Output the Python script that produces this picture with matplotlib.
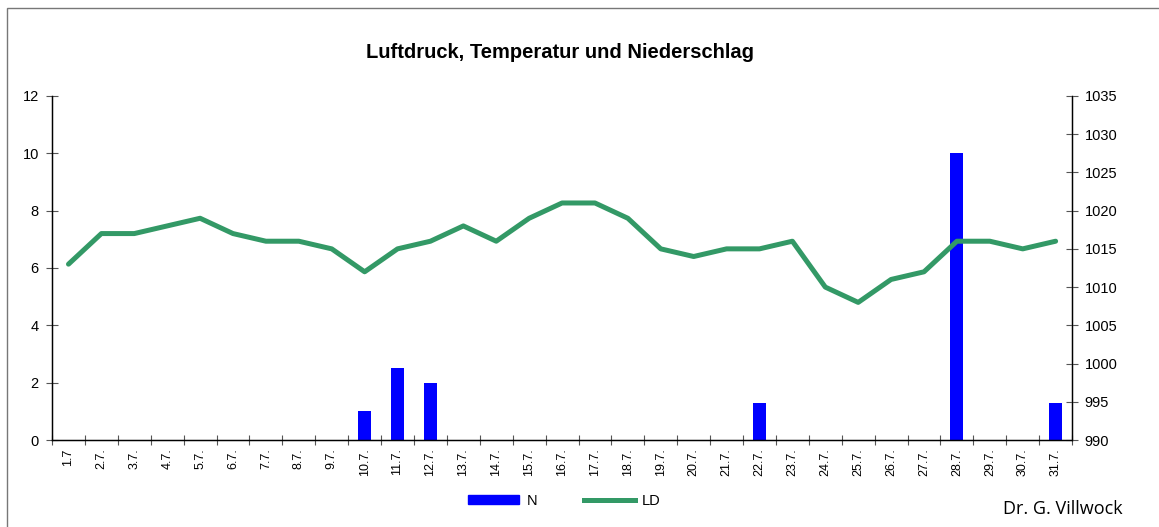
import numpy as np
import matplotlib
matplotlib.use('Agg')
import matplotlib.pyplot as plt
from matplotlib.patches import Rectangle, Patch
from matplotlib.lines import Line2D

plt.rcParams['font.family'] = ['Liberation Sans', 'DejaVu Sans']

# Data
days = ['1.7', '2.7.', '3.7.', '4.7.', '5.7.', '6.7.', '7.7.', '8.7.', '9.7.', '10.7.',
        '11.7.', '12.7.', '13.7.', '14.7.', '15.7.', '16.7.', '17.7.', '18.7.', '19.7.', '20.7.',
        '21.7.', '22.7.', '23.7.', '24.7.', '25.7.', '26.7.', '27.7.', '28.7.', '29.7.', '30.7.',
        '31.7.']
niederschlag = [0, 0, 0, 0, 0, 0, 0, 0, 0, 1.0,
                2.5, 2.0, 0, 0, 0, 0, 0, 0, 0, 0,
                0, 1.3, 0, 0, 0, 0, 0, 10.0, 0, 0,
                1.3]
luftdruck = [1013, 1017, 1017, 1018, 1019, 1017, 1016, 1016, 1015, 1012,
             1015, 1016, 1018, 1016, 1019, 1021, 1021, 1019, 1015, 1014,
             1015, 1015, 1016, 1010, 1008, 1011, 1012, 1016, 1016, 1015,
             1016]

x = np.arange(len(days))

fig = plt.figure(figsize=(11.59, 5.27), dpi=100)
ax = fig.add_axes([0.0449, 0.165, 0.8801, 0.653])

# Precipitation bars
ax.bar(x, niederschlag, width=0.4, color='#0000FF', zorder=2)
ax.set_xlim(-0.5, len(days) - 0.5)
ax.set_ylim(0, 12)
ax.set_yticks(range(0, 13, 2))
ax.tick_params(axis='y', direction='inout', length=8, width=0.8, color='#555555',
               labelsize=10.5, pad=5.5)

ax.set_xticks(x)
ax.set_xticklabels(days, rotation=90, fontsize=9)
ax.set_xticks(np.arange(-0.5, len(days), 1), minor=True)
ax.tick_params(axis='x', which='major', length=0, pad=6)
ax.tick_params(axis='x', which='minor', direction='inout', length=7, width=0.8, color='#555555')

for s in ['left', 'bottom', 'right']:
    ax.spines[s].set_color('black')
    ax.spines[s].set_linewidth(1)
ax.spines['top'].set_visible(False)

# Air pressure line on the right axis
ax2 = ax.twinx()
ax2.plot(x, luftdruck, color='#339966', linewidth=3.6, solid_capstyle='round')
ax2.set_ylim(990, 1035)
ax2.set_yticks(range(990, 1036, 5))
ax2.tick_params(axis='y', direction='inout', length=8, width=0.8, color='#555555',
                labelsize=10.5, pad=5)
ax2.spines['top'].set_visible(False)
ax2.spines['right'].set_color('black')

fig.text(0.483, 0.90, 'Luftdruck, Temperatur und Niederschlag', ha='center', va='center',
         fontsize=14.5, fontweight='bold')

handles = [Patch(color='#0000FF'), Line2D([0], [0], color='#339966', linewidth=3.6)]
fig.legend(handles, ['N', 'LD'], loc='center', bbox_to_anchor=(0.487, 0.05), ncol=2,
           frameon=False, fontsize=10.5, handlelength=3.5, handleheight=0.6,
           columnspacing=3.2, handletextpad=0.5)

fig.text(0.969, 0.034, 'Dr. G. Villwock', ha='right', va='center', fontsize=13,
         family=['Open Sans', 'DejaVu Sans'])

# Outer frame
fig.add_artist(Rectangle((7 / 1159, -0.1), 1.2, 1 - 8 / 527 + 0.1, transform=fig.transFigure,
                         fill=False, edgecolor='#777777', linewidth=1))

fig.savefig('out.png', dpi=100)
